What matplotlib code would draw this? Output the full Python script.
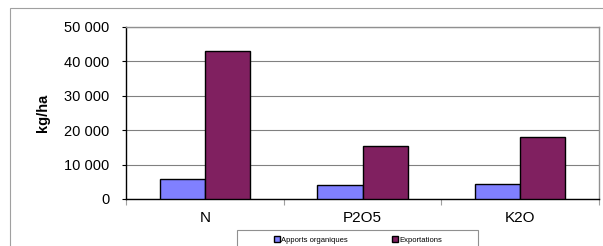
import numpy as np
import matplotlib
matplotlib.use("Agg")
import matplotlib.pyplot as plt
from matplotlib.ticker import MultipleLocator, FuncFormatter, FixedLocator
from matplotlib.patches import Rectangle

plt.rcParams['font.family'] = ['Liberation Sans', 'DejaVu Sans']

# données
categories = ['N', 'P2O5', 'K2O']
apports = [5800, 4200, 4400]
exportations = [43000, 15300, 18000]
series_names = ['Apports organiques', 'Exportations']

fig = plt.figure(figsize=(6.03, 2.46), dpi=100)
W, H = 603.0, 246.0

# cadre extérieur gris
fig.patches.append(Rectangle((10 / W, -0.1), 1.0, 1 - 8 / H + 0.1, transform=fig.transFigure,
                             fill=False, edgecolor='#a0a0a0', linewidth=0.8))

ax = fig.add_axes([126 / W, 1 - 199 / H, (599 - 126) / W, (199 - 27) / H])

x = np.arange(len(categories))
w = 1 / 3.5
b1 = ax.bar(x - w / 2, apports, w, color='#8080ff', edgecolor='black', linewidth=1.0,
            label=series_names[0], zorder=3)
b2 = ax.bar(x + w / 2, exportations, w, color='#802060', edgecolor='black', linewidth=1.0,
            label=series_names[1], zorder=3)

ax.set_xlim(-0.5, len(categories) - 0.5)
ax.set_ylim(0, 50000)
ax.yaxis.set_major_locator(MultipleLocator(10000))
ax.yaxis.set_major_formatter(FuncFormatter(lambda v, p: '{:,}'.format(int(v)).replace(',', ' ')))
ax.grid(axis='y', color='#808080', linewidth=0.8, zorder=0)

ax.set_xticks(x)
ax.set_xticklabels(categories, fontsize=11)
ax.xaxis.set_minor_locator(FixedLocator(np.arange(len(categories) + 1) - 0.5))
ax.tick_params(axis='x', which='major', length=0, pad=9)
ax.tick_params(axis='x', which='minor', length=4, color='#a0a0a0', width=0.8)
ax.tick_params(axis='y', which='major', length=3, width=0.8, labelsize=10.5, pad=9)

ax.set_ylabel('kg/ha', fontsize=10.5, fontweight='bold', labelpad=10)

for s in ['left', 'bottom']:
    ax.spines[s].set_color('black')
    ax.spines[s].set_linewidth(1.0)
for s in ['top', 'right']:
    ax.spines[s].set_color('#909090')
    ax.spines[s].set_linewidth(1.0)

# légende
fig.patches.append(Rectangle((237 / W, -0.1), 241 / W, (H - 230) / H + 0.1, transform=fig.transFigure,
                             fill=False, edgecolor='#909090', linewidth=0.8))
fig.legend(handles=[b1, b2], loc='center', bbox_to_anchor=(358 / W, 1 - 240 / H), ncol=2,
           frameon=False, fontsize=5.5, columnspacing=5.8, handlelength=0.8, handleheight=0.8,
           handletextpad=0.15, borderpad=0)

plt.savefig('out.png', dpi=100)
